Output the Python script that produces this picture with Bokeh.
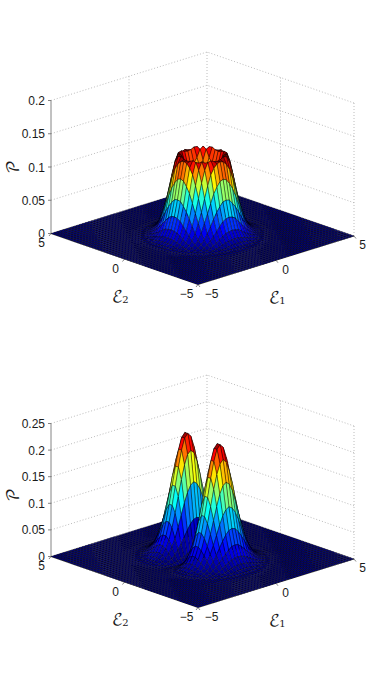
import numpy as np
from bokeh.plotting import figure
from bokeh.layouts import column
from bokeh.models import Range1d, ColumnDataSource
from bokeh.core.properties import value
from bokeh.embed import file_html
from bokeh.resources import INLINE

# heights, octant of the ring surface (row i, columns j = i..17), grid step 0.2
ring_octant = [
    [.068, .070, .077, .085, .098, .118, .119, .094, .064, .040, .022, .011, .0055, .0025, .001, .0004, .0001, 0],
    [.072, .079, .087, .100, .119, .117, .092, .063, .039, .021, .0107, .0053, .0024, .001, .0004, .0001, 0],
    [.084, .092, .107, .1215, .112, .085, .057, .036, .020, .0097, .005, .0022, .0009, .0003, .0001, 0],
    [.103, .118, .1205, .103, .076, .050, .030, .017, .0085, .0043, .0019, .0008, .0003, .0001, 0],
    [.1215, .110, .088, .063, .041, .024, .013, .0067, .0032, .0014, .0006, .0002, .0001, 0],
    [.092, .070, .049, .031, .018, .0097, .005, .0025, .001, .0005, .0001, 0, 0],
    [.051, .036, .022, .0125, .007, .0039, .0017, .0008, .0003, .0001, 0, 0],
    [.023, .0137, .0085, .0048, .0024, .0011, .0005, .0002, .0001, 0, 0],
    [.009, .0053, .0029, .0014, .0008, .0003, .0001, 0, 0, 0],
    [.003, .0017, .0009, .0004, .0001, .0001, 0, 0, 0],
    [.0009, .0005, .0002, .0001, 0, 0, 0, 0],
    [.0002, .0001, 0, 0, 0, 0, 0],
]
# heights, quadrant of the two-lobe surface (row = E1 index, column = E2 index)
lobe_quadrant = [
    [0, .020, .072, .137, .194, .224, .224, .198, .157, .113, .074, .045, .025, .0127, .006, .0026, .0011, .0004, .0001],
    [0, .019, .070, .132, .188, .217, .217, .191, .152, .109, .072, .044, .024, .0123, .0058, .0025, .0011, .0004, .0001],
    [0, .018, .063, .120, .170, .196, .196, .173, .138, .099, .065, .039, .022, .0111, .0053, .0023, .001, .0004, .0001],
    [0, .015, .053, .102, .144, .166, .166, .147, .116, .084, .055, .033, .019, .0094, .0045, .0019, .0008, .0003, .0001],
    [0, .012, .042, .081, .114, .132, .132, .116, .092, .066, .044, .026, .015, .0075, .0035, .0015, .0006, .0002, .0001],
    [0, .009, .031, .060, .085, .098, .098, .086, .068, .049, .032, .020, .011, .0055, .0026, .0011, .0005, .0002, 0],
    [0, .006, .022, .041, .059, .068, .068, .060, .047, .034, .022, .014, .0076, .0038, .0018, .0008, .0003, .0001, 0],
    [0, .004, .014, .027, .038, .044, .044, .039, .031, .022, .015, .0089, .0049, .0025, .0012, .0005, .0002, .0001, 0],
    [0, .0024, .0086, .016, .023, .027, .027, .024, .019, .013, .0088, .0054, .003, .0015, .0007, .0003, .0001, 0, 0],
    [0, .0014, .0049, .0093, .013, .015, .015, .013, .011, .0077, .005, .0031, .0017, .0009, .0004, .0002, .0001, 0, 0],
    [0, .0007, .0026, .0049, .007, .0081, .0081, .0071, .0057, .0041, .0027, .0016, .0009, .0005, .0002, .0001, 0, 0, 0],
    [0, .0004, .0013, .0025, .0035, .004, .004, .0036, .0028, .002, .0013, .0008, .0005, .0002, .0001, 0, 0, 0, 0],
    [0, .0002, .0006, .0012, .0016, .0019, .0019, .0017, .0013, .0009, .0006, .0004, .0002, .0001, .0001, 0, 0, 0, 0],
    [0, .0001, .0003, .0005, .0007, .0008, .0008, .0007, .0006, .0004, .0003, .0002, .0001, 0, 0, 0, 0, 0, 0],
    [0, 0, .0001, .0002, .0003, .0003, .0003, .0003, .0002, .0002, .0001, .0001, 0, 0, 0, 0, 0, 0, 0],
    [0, 0, 0, .0001, .0001, .0001, .0001, .0001, .0001, .0001, 0, 0, 0, 0, 0, 0, 0, 0, 0],
]
ticks_top = [0, 0.05, 0.1, 0.15, 0.2]
labels_top = ["0", "0.05", "0.1", "0.15", "0.2"]
ticks_bottom = [0, 0.05, 0.1, 0.15, 0.2, 0.25]
labels_bottom = ["0", "0.05", "0.1", "0.15", "0.2", "0.25"]
ticks_e = [-5, 0, 5]
labels_e = ["\u22125", "0", "5"]

N = 51
grid = np.linspace(-5, 5, N)
C = N // 2


def from_octant(rows):
    Z = np.zeros((N, N))
    for i, row in enumerate(rows):
        for k, v in enumerate(row):
            j = i + k
            for a, b in ((i, j), (j, i)):
                for sa in (1, -1):
                    for sb in (1, -1):
                        Z[C + sa * a, C + sb * b] = v
    return Z


def from_quadrant(rows):
    Z = np.zeros((N, N))
    for i, row in enumerate(rows):
        for j, v in enumerate(row):
            for sa in (1, -1):
                for sb in (1, -1):
                    Z[C + sa * i, C + sb * j] = v
    return Z


def jet_hex(t):
    t = np.clip(t, 0, 1)
    t = np.floor(t * 63.999) / 63
    r = np.clip(1.5 - np.abs(4 * t - 3), 0, 1)
    g = np.clip(1.5 - np.abs(4 * t - 2), 0, 1)
    b = np.clip(1.5 - np.abs(4 * t - 1), 0, 1)
    return "#%02x%02x%02x" % (int(r * 255), int(g * 255), int(b * 255))


def panel(Z, zscale, zticks, zlabels, top, bottom, p_shift):
    y0 = 284 + top  # bottom floor corner in figure coordinates

    def proj(x1, x2, z=0.0):
        x1, x2, z = np.asarray(x1, float), np.asarray(x2, float), np.asarray(z, float)
        return (197.5 + (x1 + 5) * 15.6 - (x2 + 5) * 14.7,
                y0 - (x1 + 5) * 4.85 - (x2 + 5) * 5.1 - z * zscale)

    p = figure(width=388, height=bottom - top, x_range=Range1d(0, 388),
               y_range=Range1d(bottom, top), output_backend="svg", toolbar_location=None,
               min_border=0, outline_line_color=None)
    p.axis.visible = False
    p.grid.visible = False

    ztop = zticks[-1]
    dot = dict(line_color="#b4b4b4", line_width=0.9, line_dash="1 2")
    # wall grid lines
    for z in zticks:
        xs, ys = proj([-5, 5, 5], [5, 5, -5], [z, z, z])
        p.line(list(xs), list(ys), **dot)
    for c in ticks_e:
        if c == -5:
            continue
        xs, ys = proj([c, c], [5, 5], [0, ztop])
        p.line(list(xs), list(ys), **dot)
        if c != 5:
            xs, ys = proj([5, 5], [c, c], [0, ztop])
            p.line(list(xs), list(ys), **dot)
    xs, ys = proj([5, 5], [-5, -5], [0, ztop])
    p.line(list(xs), list(ys), **dot)

    # axis lines
    ax = dict(line_color="#666666", line_width=0.8)
    xs, ys = proj([-5, -5], [5, 5], [0, ztop])
    p.line(list(xs), list(ys), **ax)
    xs, ys = proj([-5, -5, 5], [5, -5, -5], [0, 0, 0])
    p.line(list(xs), list(ys), **ax)
    for z in zticks:
        xs, ys = proj([-5, -5], [5, 5], [z, z])
        p.line([xs[0] - 3, xs[1]], list(ys), **ax)
    for c in ticks_e:
        xs, ys = proj([c, c], [-5, -5])
        p.line([xs[0], xs[0] + 2], [ys[0], ys[0] + 2.5], **ax)
        xs, ys = proj([-5, -5], [c, c])
        p.line([xs[0], xs[0] - 2], [ys[0], ys[0] + 2.5], **ax)

    # surface, back to front
    zmax = Z.max()
    fx, fy, fc = [], [], []
    order = sorted(((i, j) for i in range(N - 1) for j in range(N - 1)), key=lambda t: -(t[0] + t[1]))
    for i, j in order:
        ii = [i, i + 1, i + 1, i]
        jj = [j, j, j + 1, j + 1]
        sx, sy = proj(grid[ii], grid[jj], Z[ii, jj])
        fx.append(list(sx))
        fy.append(list(sy))
        fc.append(jet_hex(Z[i, j] / zmax))
    p.patches("x", "y", fill_color="c", line_color="#000000", line_width=0.4,
              source=ColumnDataSource(dict(x=fx, y=fy, c=fc)))

    font = value("Liberation Sans")
    common = dict(text_font=font, text_font_size=value("12px"), text_color="#1a1a1a")
    # z labels
    zx, zy = proj([-5] * len(zticks), [5] * len(zticks), zticks)
    p.text(x=list(zx - 6), y=list(zy), text=zlabels, text_align="right", text_baseline="middle", **common)
    # E2 labels and E1 labels
    x2x, x2y = proj([-5, -5, -5], ticks_e, 0)
    p.text(x=list(x2x + np.array([-11.5, -9, -9.5])), y=list(x2y + np.array([9, 9.5, 9])),
           text=labels_e, text_align="center", text_baseline="middle", **common)
    x1x, x1y = proj(ticks_e, [-5, -5, -5], 0)
    p.text(x=list(x1x + np.array([13.5, 9.5, 8.5])), y=list(x1y + np.array([9, 9.5, 8.5])),
           text=labels_e, text_align="center", text_baseline="middle", **common)

    math = value("DejaVu Math TeX Gyre")
    lab = dict(text_font=math, text_color="#1a1a1a", text_align="center", text_baseline="middle")
    p.text(x=[117], y=[y0 + 12], text=["\u2130"], text_font_size=value("16px"), **lab)
    p.text(x=[125], y=[y0 + 15], text=["2"], text_font_size=value("10px"), **lab)
    p.text(x=[274], y=[y0 + 13], text=["\u2130"], text_font_size=value("16px"), **lab)
    p.text(x=[282], y=[y0 + 16], text=["1"], text_font_size=value("10px"), **lab)
    zmid = zx[0] - 37
    p.text(x=[zmid], y=[(zy[0] + zy[-1]) / 2 + p_shift], text=["\U0001D4AB"], text_font_size=value("16px"),
           angle=[np.pi / 2], **lab)
    return p


p1 = panel(from_octant(ring_octant), 665, ticks_top, labels_top, 0, 323, 0)
p2 = panel(from_quadrant(lobe_quadrant), 532, ticks_bottom, labels_bottom, 323, 646, 5)
layout = column(p1, p2, spacing=0)
open("out.html", "w").write(file_html(layout, INLINE))
